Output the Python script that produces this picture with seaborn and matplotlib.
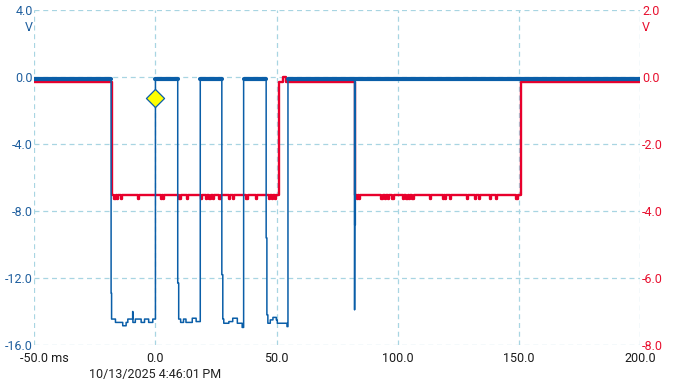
import matplotlib
matplotlib.use("Agg")
import matplotlib.pyplot as plt
import matplotlib.transforms as mtransforms
import numpy as np
import pandas as pd
import seaborn as sns

# ---------------- data ----------------
x_ticks = [-50, 0, 50, 100, 150, 200]
x_tick_labels = ["-50.0 ms", "0.0", "50.0", "100.0", "150.0", "200.0"]
left_ticks = [-16, -12, -8, -4, 0, 4]
left_tick_labels = ["-16.0", "-12.0", "-8.0", "-4.0", "0.0", "4.0"]
right_ticks = [-8, -6, -4, -2, 0, 2]
right_tick_labels = ["-8.0", "-6.0", "-4.0", "-2.0", "0.0", "2.0"]
timestamp = "10/13/2025 4:46:01\u202fPM"

# blue channel (left axis, V) : (ms, V)
blue_idle_level = -0.1
blue_start = [(-50.0, -0.1)]
blue_pulse_1 = [(-18.3, -0.1), (-18.3, -12.9), (-18.1, -12.9), (-18.1, -14.45), (-16.5, -14.45),
                (-16.5, -14.65), (-13.5, -14.65), (-13.5, -14.85), (-12.1, -14.85), (-12.1, -14.65),
                (-11.4, -14.65), (-11.4, -14.45), (-9.4, -14.45), (-9.4, -14.0), (-9.3, -14.0),
                (-9.3, -14.65), (-8.3, -14.65), (-8.3, -14.45), (-5.9, -14.45), (-5.9, -14.65),
                (-4.5, -14.65), (-4.5, -14.45), (-2.8, -14.45), (-2.8, -14.65), (-1.1, -14.65),
                (-1.1, -14.45), (0.0, -14.45), (0.0, -0.1)]
blue_pulse_2 = [(9.2, -0.1), (9.2, -12.3), (9.6, -12.3), (9.6, -14.45), (10.4, -14.45),
                (10.4, -14.65), (11.6, -14.65), (11.6, -14.45), (12.6, -14.45), (12.6, -14.65),
                (15.2, -14.65), (15.2, -14.4), (16.8, -14.4), (16.8, -14.6), (18.5, -14.6),
                (18.5, -0.1)]
blue_pulse_3 = [(27.4, -0.1), (27.4, -11.8), (27.8, -11.8), (27.8, -14.45), (28.2, -14.45),
                (28.2, -14.7), (30.3, -14.7), (30.3, -14.6), (31.9, -14.6), (31.9, -14.4),
                (33.8, -14.4), (33.8, -14.7), (35.8, -14.7), (35.8, -14.95), (36.4, -14.95),
                (36.4, -0.1)]
blue_pulse_4 = [(45.7, -0.1), (45.7, -9.6), (46.0, -9.6), (46.0, -14.2), (46.4, -14.2),
                (46.4, -14.7), (47.4, -14.7), (47.4, -14.5), (48.5, -14.5), (48.5, -14.35),
                (49.9, -14.35), (49.9, -14.5), (50.3, -14.5), (50.3, -14.7), (54.3, -14.7),
                (54.3, -14.9), (54.7, -14.9), (54.7, -0.1)]
blue_glitch = [(82.2, -0.1), (82.2, -13.9), (82.3, -0.1)]
blue_end = [(200.0, -0.1)]
# idle (noisy) stretches drawn as a thick band, plus the thick part of the glitch
blue_idle_spans = [(-50.0, -18.3), (0.0, 9.2), (18.5, 27.4), (36.4, 45.7), (54.7, 200.0)]
blue_glitch_thick = [(82.2, -0.1), (82.2, -8.8)]

# red channel (right axis, V)
red_high = -0.14
red_low = -3.52
red_spike = -3.64
red_edges = [(-50.0, "high"), (-17.8, "low"), (51.0, "high"), (82.5, "low"), (150.8, "high"), (200.0, "high")]
red_bump = (52.6, 54.0, 0.02)
red_spikes_1 = [-16.9, -15.8, -14.2, -7.3, 2.1, 3.0, 9.9, 13.1, 18.9, 20.9, 22.3, 23.7, 26.4,
                30.2, 31.9, 37.5, 41.6, 46.7, 48.1, 49.2]
red_spikes_2 = [83.2, 84.0, 93.3, 94.6, 96.0, 97.8, 102.2, 103.6, 104.7, 106.1, 113.2, 118.5,
                119.4, 121.5, 128.4, 131.8, 133.6, 138.0, 140.5, 149.0]

trigger_t = [0.0]
trigger_v = [-1.22]

# ---------------- build tables ----------------
blue_pts = blue_start + blue_pulse_1 + blue_pulse_2 + blue_pulse_3 + blue_pulse_4 + blue_glitch + blue_end
blue_df = pd.DataFrame(blue_pts, columns=["t", "v"])

idle_rows = []
for i, (a, b) in enumerate(blue_idle_spans):
    idle_rows += [(a, blue_idle_level, i), (b, blue_idle_level, i)]
idle_df = pd.DataFrame(idle_rows, columns=["t", "v", "seg"])
glitch_df = pd.DataFrame(blue_glitch_thick, columns=["t", "v"])

spike_w = 0.5
red_pts = []
all_spikes = sorted(red_spikes_1 + red_spikes_2)
level = {"high": red_high, "low": red_low}
for (t0, s0), (t1, s1) in zip(red_edges[:-1], red_edges[1:]):
    y = level[s0]
    red_pts.append((t0, y))
    if s0 == "low":
        for s in all_spikes:
            if t0 < s < t1:
                red_pts += [(s, y), (s, red_spike), (s + spike_w, red_spike), (s + spike_w, y)]
    else:
        if t0 < red_bump[0] < t1:
            red_pts += [(red_bump[0], y), (red_bump[0], red_bump[2]), (red_bump[1], red_bump[2]), (red_bump[1], y)]
    red_pts.append((t1, y))
    red_pts.append((t1, level[s1]))
red_df = pd.DataFrame(red_pts, columns=["t", "v"])

# ---------------- style ----------------
BLUE = "#0a5ea8"
RED = "#e8002c"
GRID = "#a8d5e2"
BLUE_LBL = "#1f5f9e"
RED_LBL = "#e8102f"

sns.set_theme(style="white")
plt.rcParams["font.family"] = ["Roboto", "DejaVu Sans"]
FS = 9

W, H = 674, 385
fig = plt.figure(figsize=(W / 100, H / 100), dpi=100)
L, R, T, B = 34.3, 640.0, 10.3, 345.0
ax = fig.add_axes([L / W, 1 - B / H, (R - L) / W, (B - T) / H])
ax2 = ax.twinx()
ax.set_zorder(ax2.get_zorder() + 1)
ax.patch.set_visible(False)

# grid on the lower (red) axes so that the traces sit above it
for xt in x_ticks:
    ax2.axvline(xt, color=GRID, lw=0.9, ls=(0, (4, 3)), zorder=0)
ax2.grid(axis="y", color=GRID, lw=0.9, ls=(0, (4, 3)))
ax.grid(False)

sns.lineplot(data=red_df, x="t", y="v", ax=ax2, sort=False, estimator=None,
             color=RED, linewidth=1.7)
sns.lineplot(data=idle_df, x="t", y="v", units="seg", ax=ax, sort=False, estimator=None,
             color=BLUE, linewidth=3.0)
sns.lineplot(data=glitch_df, x="t", y="v", ax=ax, sort=False, estimator=None,
             color=BLUE, linewidth=1.6)
sns.lineplot(data=blue_df, x="t", y="v", ax=ax, sort=False, estimator=None,
             color=BLUE, linewidth=1.1)
sns.scatterplot(x=trigger_t, y=trigger_v, ax=ax, marker="D", s=85, color="#ffff00",
                edgecolor=BLUE, linewidth=0.9, zorder=6)

ax.set_xlim(-50, 200)
ax.set_ylim(-16, 4)
ax2.set_ylim(-8, 2)
ax.set_xticks(x_ticks)
ax.set_xticklabels(x_tick_labels)
ax.set_yticks(left_ticks)
ax.set_yticklabels(left_tick_labels)
ax2.set_yticks(right_ticks)
ax2.set_yticklabels(right_tick_labels)
for a in (ax, ax2):
    a.set_xlabel("")
    a.set_ylabel("")
    for s in a.spines.values():
        s.set_visible(False)
ax.tick_params(axis="x", length=0, pad=5.0, labelsize=FS, labelcolor="#1a1a1a")
ax.tick_params(axis="y", length=0, pad=1, labelsize=FS, labelcolor=BLUE_LBL)
ax2.tick_params(axis="y", length=0, pad=1.5, labelsize=FS, labelcolor=RED_LBL)

# first x label ("-50.0 ms") starts a little left of its tick, as in the reference
first = ax.get_xticklabels()[0]
first.set_ha("left")
first.set_transform(first.get_transform() +
                    mtransforms.ScaledTranslation(-13.8 / 100, 0, fig.dpi_scale_trans))

fig.text(32.8 / W, 1 - 27.2 / H, "V", ha="right", va="center", fontsize=FS, color=BLUE_LBL)
fig.text(641.5 / W, 1 - 27.2 / H, "V", ha="left", va="center", fontsize=FS, color=RED_LBL)
fig.text(155.5 / W, 1 - 374.7 / H, timestamp, ha="center", va="center", fontsize=FS,
         color="#222222", family=["Roboto", "DejaVu Sans"])

fig.savefig("out.png", dpi=100, facecolor="white")
